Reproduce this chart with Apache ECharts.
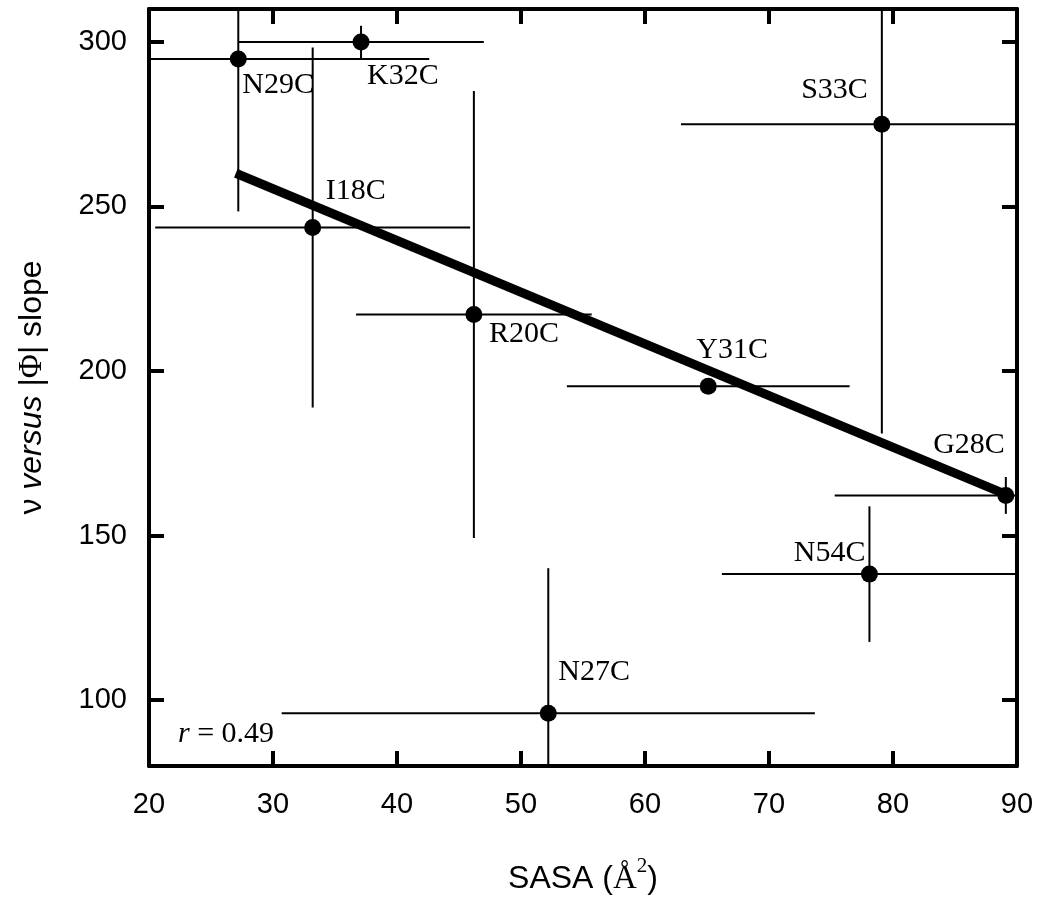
<!DOCTYPE html>
<html><head><meta charset="utf-8">
<script src="https://cdn.jsdelivr.net/npm/echarts@6/dist/echarts.min.js"></script>
<style>html,body{margin:0;padding:0;background:#fff}#c{width:1039px;height:900px}</style>
</head><body><div id="c"></div>
<script>
// ---- data ----
const mutants  = ['N29C','K32C','I18C','R20C','Y31C','S33C','G28C','N54C','N27C'];
const sasa     = [27.2, 37.1, 33.2, 46.2, 65.1, 79.1, 89.1, 78.1, 52.2];
const sasaErr  = [15.4, 9.9, 12.7, 9.5, 11.4, 16.2, 13.8, 11.9, 21.5];
const slope    = [294.8, 300.0, 243.6, 217.2, 195.4, 275.0, 162.2, 138.3, 96.0];
const slopeErr = [46.3, 4.9, 54.7, 67.9, 2, 94, 5.6, 20.6, 44.1];
const fitLine  = [[27.0, 260.1], [89.1, 162.5]];
const xTicks   = [20, 30, 40, 50, 60, 70, 80, 90];
const yTicks   = [100, 150, 200, 250, 300];
const rText    = '0.49';

// ---- styles ----
const labelPlacement = [
  {align:'left',  offset:[4, 26]},
  {align:'left',  offset:[6, 34]},
  {align:'left',  offset:[13, -36]},
  {align:'left',  offset:[15, 20]},
  {align:'left',  offset:[-12, -36]},
  {align:'right', offset:[-14, -34]},
  {align:'right', offset:[-1, -50]},
  {align:'right', offset:[-4, -21]},
  {align:'left',  offset:[10, -41]}
];
const SERIF = 'Liberation Serif';
const SANS = 'Liberation Sans';

const chart = echarts.init(document.getElementById('c'), null, {renderer:'canvas'});

const lineStyleAxis = {color:'#000', width:4};
const tickStyle = {show:true, inside:true, length:15, lineStyle:{color:'#000', width:4}};

const option = {
  backgroundColor:'#fff',
  animation:false,
  grid:{left:149, right:22, top:9, bottom:134, containLabel:false, outerBoundsMode:'none'},
  xAxis:[
    {type:'value', position:'bottom', min:xTicks[0], max:xTicks[xTicks.length-1], interval:10,
     axisLine:{show:true, onZero:false, lineStyle:lineStyleAxis},
     axisTick:tickStyle, splitLine:{show:false},
     axisLabel:{show:true, color:'#000', fontFamily:SANS, fontSize:29, margin:24},
     name:'{a|SASA (}{b|Å}{c|2}{a|)}', nameLocation:'middle', nameGap:90,
     nameTextStyle:{rich:{
       a:{fontFamily:SANS, fontSize:32, color:'#000'},
       b:{fontFamily:SERIF, fontSize:33, color:'#000'},
       c:{fontFamily:SERIF, fontSize:21, color:'#000', padding:[0,0,26,0]}
     }}
    },
    {type:'value', position:'top', min:xTicks[0], max:xTicks[xTicks.length-1], interval:10,
     axisLine:{show:true, onZero:false, lineStyle:lineStyleAxis},
     axisTick:tickStyle, splitLine:{show:false}, axisLabel:{show:false}}
  ],
  yAxis:[
    {type:'value', position:'left', min:80, max:310,
     axisLine:{show:true, onZero:false, lineStyle:lineStyleAxis},
     axisTick:Object.assign({}, tickStyle, {customValues:yTicks}),
     splitLine:{show:false},
     axisLabel:{show:true, color:'#000', fontFamily:SANS, fontSize:29, margin:22, customValues:yTicks},
     name:'{a|ν }{i|versus}{a| |}{s|Φ}{a|| slope}', nameLocation:'middle', nameGap:100, nameRotate:90,
     nameTextStyle:{rich:{
       a:{fontFamily:SANS, fontSize:32, color:'#000'},
       i:{fontFamily:SANS, fontSize:32, fontStyle:'italic', color:'#000'},
       s:{fontFamily:SERIF, fontSize:33, color:'#000'}
     }}
    },
    {type:'value', position:'right', min:80, max:310,
     axisLine:{show:true, onZero:false, lineStyle:lineStyleAxis},
     axisTick:Object.assign({}, tickStyle, {customValues:yTicks}),
     splitLine:{show:false}, axisLabel:{show:false}}
  ],
  series:[
    {
      type:'custom', xAxisIndex:0, yAxisIndex:0, z:1, silent:true,
      data: mutants.map((n,i)=>[sasa[i], slope[i], sasaErr[i], slopeErr[i]]),
      encode:{x:0, y:1},
      renderItem(params, api){
        const cs = params.coordSys;
        const x = api.value(0), y = api.value(1), ex = api.value(2), ey = api.value(3);
        const clampX = v => Math.max(cs.x, Math.min(cs.x + cs.width, v));
        const clampY = v => Math.max(cs.y, Math.min(cs.y + cs.height, v));
        const l = api.coord([x-ex, y]), r = api.coord([x+ex, y]);
        const t = api.coord([x, y+ey]), b = api.coord([x, y-ey]);
        const style = {stroke:'#000', lineWidth:2};
        return {type:'group', children:[
          {type:'line', shape:{x1:clampX(l[0]), y1:l[1], x2:clampX(r[0]), y2:r[1]}, style},
          {type:'line', shape:{x1:t[0], y1:clampY(t[1]), x2:b[0], y2:clampY(b[1])}, style}
        ]};
      }
    },
    {
      type:'line', xAxisIndex:0, yAxisIndex:0, z:2, symbol:'none', silent:true,
      data: fitLine,
      lineStyle:{color:'#000', width:9, cap:'butt', opacity:1}
    },
    {
      type:'scatter', xAxisIndex:0, yAxisIndex:0, z:3, symbol:'circle', symbolSize:17, silent:true,
      itemStyle:{color:'#000', opacity:1},
      data: mutants.map((n,i)=>({
        name:n, value:[sasa[i], slope[i]],
        label:{show:true, position:'inside', verticalAlign:'middle',
               align:labelPlacement[i].align, offset:labelPlacement[i].offset,
               formatter:n, fontFamily:SERIF, fontSize:30, color:'#000', opacity:1,
               textBorderWidth:0}
      }))
    }
  ],
  graphic:[
    {type:'text', left:178, top:719, z:10,
     style:{text:'{i|r}{a| = ' + rText + '}', rich:{
       i:{fontFamily:SERIF, fontSize:30, fontStyle:'italic', fill:'#000', color:'#000'},
       a:{fontFamily:SERIF, fontSize:30, fill:'#000', color:'#000'}
     }}}
  ]
};
chart.setOption(option);
</script>
</body></html>
